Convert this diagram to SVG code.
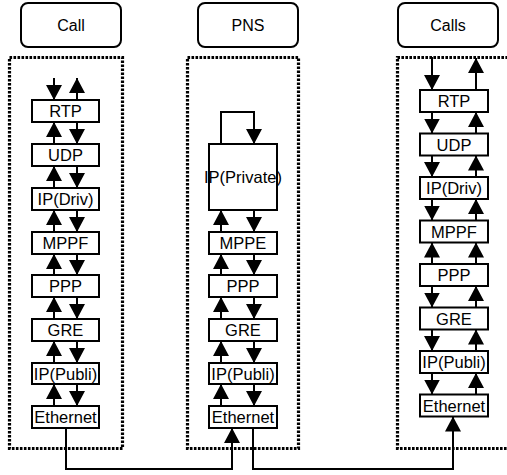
<svg xmlns="http://www.w3.org/2000/svg" width="507" height="475" viewBox="0 0 507 475">
<style>
.title{fill:#fff;stroke:#000;stroke-width:2}
.frame{fill:none;stroke:#000;stroke-width:3.2;stroke-dasharray:2.6 1.4}
.box{fill:#fff;stroke:#000;stroke-width:2}
.lbl{font-family:"Liberation Sans",Arial,sans-serif;font-size:16.5px;text-anchor:middle;fill:#000}
.ttl{font-family:"Liberation Sans",Arial,sans-serif;font-size:16px;text-anchor:middle;fill:#000}
.ar{fill:none;stroke:#000;stroke-width:2;marker-end:url(#ah)}
</style>
<defs>
<marker id="ah" markerUnits="userSpaceOnUse" viewBox="0 0 15 16" markerWidth="15" markerHeight="16" refX="15" refY="8" orient="auto">
<path d="M0,0 L15,8 L0,16 z" fill="#000"/>
</marker>
</defs>
<rect width="507" height="475" fill="#fff"/>

<g id="frames">
<rect class="frame" x="9.5" y="57.5" width="113" height="391"/>
<rect class="frame" x="187.5" y="57.5" width="111" height="391"/>
<path class="frame" d="M512,57.5 H397.5 V448.5 H512"/>
</g>

<g id="title-call"><rect class="title" x="21" y="3" width="100" height="44" rx="7"/><text class="ttl" x="71" y="31">Call</text></g>
<g id="title-pns"><rect class="title" x="198" y="3" width="100" height="44" rx="7"/><text class="ttl" x="248" y="31">PNS</text></g>
<g id="title-calls"><rect class="title" x="398" y="3" width="100" height="44" rx="7"/><text class="ttl" x="448" y="31">Calls</text></g>

<g id="call-stack">
<g id="c-rtp"><rect class="box" x="32" y="100" width="67" height="22"/><text class="lbl" x="65.5" y="117">RTP</text></g>
<g id="c-udp"><rect class="box" x="32" y="144" width="67" height="22"/><text class="lbl" x="65.5" y="161">UDP</text></g>
<g id="c-ipd"><rect class="box" x="32" y="188" width="67" height="22"/><text class="lbl" x="65.5" y="205">IP(Driv)</text></g>
<g id="c-mppf"><rect class="box" x="32" y="232" width="67" height="22"/><text class="lbl" x="65.5" y="249">MPPF</text></g>
<g id="c-ppp"><rect class="box" x="32" y="275" width="67" height="22"/><text class="lbl" x="65.5" y="292">PPP</text></g>
<g id="c-gre"><rect class="box" x="32" y="319" width="67" height="22"/><text class="lbl" x="65.5" y="336">GRE</text></g>
<g id="c-ipp"><rect class="box" x="32" y="363" width="67" height="21"/><text class="lbl" x="65.5" y="379.5">IP(Publi)</text></g>
<g id="c-eth"><rect class="box" x="32" y="406" width="67" height="22"/><text class="lbl" x="65.5" y="422.5">Ethernet</text></g>
</g>

<g id="pns-stack">
<g id="p-ippriv"><rect class="box" x="209" y="144" width="68" height="66"/><text class="lbl" x="243" y="183">IP(Private)</text></g>
<g id="p-mppe"><rect class="box" x="209" y="232" width="68" height="22"/><text class="lbl" x="243" y="249">MPPE</text></g>
<g id="p-ppp"><rect class="box" x="209" y="275" width="68" height="22"/><text class="lbl" x="243" y="292">PPP</text></g>
<g id="p-gre"><rect class="box" x="209" y="319" width="68" height="22"/><text class="lbl" x="243" y="336">GRE</text></g>
<g id="p-ipp"><rect class="box" x="209" y="363" width="68" height="21"/><text class="lbl" x="243" y="379.5">IP(Publi)</text></g>
<g id="p-eth"><rect class="box" x="209" y="406" width="68" height="22"/><text class="lbl" x="243" y="422.5">Ethernet</text></g>
</g>

<g id="calls-stack">
<g id="r-rtp"><rect class="box" x="420" y="90" width="68" height="22"/><text class="lbl" x="454" y="107">RTP</text></g>
<g id="r-udp"><rect class="box" x="420" y="133.5" width="68" height="22"/><text class="lbl" x="454" y="150.5">UDP</text></g>
<g id="r-ipd"><rect class="box" x="420" y="177" width="68" height="22"/><text class="lbl" x="454" y="194">IP(Driv)</text></g>
<g id="r-mppf"><rect class="box" x="420" y="220.5" width="68" height="22"/><text class="lbl" x="454" y="237.5">MPPF</text></g>
<g id="r-ppp"><rect class="box" x="420" y="264" width="68" height="22"/><text class="lbl" x="454" y="281">PPP</text></g>
<g id="r-gre"><rect class="box" x="420" y="307.5" width="68" height="22"/><text class="lbl" x="454" y="324.5">GRE</text></g>
<g id="r-ipp"><rect class="box" x="420" y="351" width="68" height="22"/><text class="lbl" x="454" y="368">IP(Publi)</text></g>
<g id="r-eth"><rect class="box" x="420" y="394.5" width="68" height="22"/><text class="lbl" x="454" y="411.5">Ethernet</text></g>
</g>

<g id="connectors">
<path class="ar" d="M54,78 V100"/>
<path class="ar" d="M77,100 V78"/>
<path class="ar" d="M54,144 V122"/><path class="ar" d="M77,122 V144"/>
<path class="ar" d="M54,188 V166"/><path class="ar" d="M77,166 V188"/>
<path class="ar" d="M54,232 V210"/><path class="ar" d="M77,210 V232"/>
<path class="ar" d="M54,275 V254"/><path class="ar" d="M77,254 V275"/>
<path class="ar" d="M54,319 V297"/><path class="ar" d="M77,297 V319"/>
<path class="ar" d="M54,363 V341"/><path class="ar" d="M77,341 V363"/>
<path class="ar" d="M54,406 V384"/><path class="ar" d="M77,384 V406"/>
<path class="ar" d="M221,144 V112 H254 V144"/>
<path class="ar" d="M221,232 V210"/><path class="ar" d="M254,210 V232"/>
<path class="ar" d="M221,275 V254"/><path class="ar" d="M254,254 V275"/>
<path class="ar" d="M221,319 V297"/><path class="ar" d="M254,297 V319"/>
<path class="ar" d="M221,363 V341"/><path class="ar" d="M254,341 V363"/>
<path class="ar" d="M221,406 V384"/><path class="ar" d="M254,384 V406"/>
<path class="ar" d="M432,57 V90"/>
<path class="ar" d="M476,90 V58"/>
<path class="ar" d="M432,112 V133.5"/><path class="ar" d="M476,133.5 V112"/>
<path class="ar" d="M432,155.5 V177"/><path class="ar" d="M476,177 V155.5"/>
<path class="ar" d="M432,199 V220.5"/><path class="ar" d="M476,220.5 V199"/>
<path class="ar" d="M432,264 V242.5"/><path class="ar" d="M476,264 V242.5"/>
<path class="ar" d="M432,286 V307.5"/><path class="ar" d="M476,307.5 V286"/>
<path class="ar" d="M432,329.5 V351"/><path class="ar" d="M476,351 V329.5"/>
<path class="ar" d="M432,373 V394.5"/><path class="ar" d="M476,394.5 V373"/>
<path class="ar" d="M66,428 V469 H232 V428"/>
<path class="ar" d="M253,428 V469 H453 V416.5"/>
</g>
</svg>
